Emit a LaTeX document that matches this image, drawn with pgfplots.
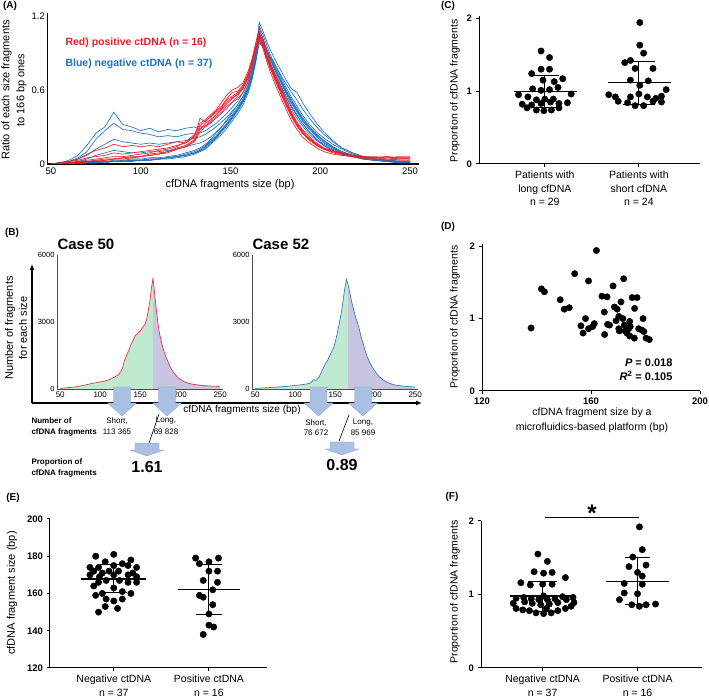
\documentclass[border=0pt]{standalone}
\usepackage{pgfplots}
\pgfplotsset{compat=1.18}
\usepackage{pgfplotstable}
\usepackage{fontspec}
\setmainfont{Liberation Sans}
\usetikzlibrary{arrows.meta}

\definecolor{cred}{RGB}{232,30,40}
\definecolor{cblue}{RGB}{30,112,188}
\definecolor{fgreen}{RGB}{192,234,208}
\definecolor{fpurple}{RGB}{200,196,226}
\definecolor{arrblue}{RGB}{170,192,226}

\newcommand{\fsz}[2]{\fontsize{#1}{#2}\selectfont}
\newcommand{\blockarrow}[6]{\fill[arrblue, draw=arrblue!85!black, line width=0.3pt] ({(#1-#5)*1pt},{#2*1pt}) -- ({(#1+#5)*1pt},{#2*1pt}) -- ({(#1+#5)*1pt},{#3*1pt}) -- ({(#1+#6)*1pt},{#3*1pt}) -- ({#1*1pt},{#4*1pt}) -- ({(#1-#6)*1pt},{#3*1pt}) -- ({(#1-#5)*1pt},{#3*1pt}) -- cycle;}

\pgfplotstableread{
x r1 r2 r3 r4 r5 r6 b1 b2 b3 b4 b5 b6 b7 b8 b9 b10
50 0 0 0 0 0 0 0 0 0 0 0 0 0 0 0 0
55 0.00 0.01 0.00 0.01 0.00 0.01 0.01 0.01 0.01 0.00 0.00 0.00 0.00 0.00 0.00 0.00
60 0.01 0.01 0.01 0.02 0.01 0.02 0.03 0.02 0.02 0.01 0.00 0.01 0.00 0.00 0.01 0.00
65 0.01 0.02 0.02 0.03 0.01 0.04 0.07 0.05 0.04 0.02 0.01 0.01 0.01 0.00 0.01 0.01
70 0.02 0.03 0.02 0.05 0.02 0.08 0.15 0.10 0.07 0.04 0.01 0.01 0.01 0.01 0.01 0.01
75 0.02 0.04 0.03 0.06 0.03 0.11 0.25 0.20 0.12 0.07 0.01 0.02 0.01 0.01 0.02 0.01
80 0.03 0.05 0.04 0.07 0.03 0.13 0.30 0.27 0.16 0.09 0.02 0.02 0.01 0.02 0.02 0.02
85 0.04 0.06 0.04 0.09 0.04 0.16 0.42 0.33 0.20 0.11 0.02 0.02 0.02 0.02 0.03 0.02
90 0.04 0.06 0.05 0.08 0.05 0.14 0.32 0.28 0.18 0.10 0.02 0.03 0.02 0.02 0.03 0.02
95 0.05 0.07 0.06 0.09 0.05 0.15 0.30 0.27 0.17 0.09 0.03 0.03 0.02 0.03 0.04 0.03
100 0.06 0.08 0.06 0.10 0.06 0.14 0.27 0.25 0.16 0.09 0.03 0.03 0.03 0.03 0.04 0.03
105 0.07 0.09 0.08 0.11 0.07 0.15 0.29 0.24 0.17 0.10 0.03 0.04 0.03 0.03 0.05 0.04
110 0.08 0.11 0.09 0.12 0.08 0.14 0.26 0.22 0.16 0.10 0.04 0.04 0.04 0.04 0.05 0.04
115 0.10 0.12 0.10 0.13 0.09 0.16 0.28 0.23 0.17 0.11 0.05 0.05 0.04 0.05 0.06 0.05
120 0.13 0.14 0.12 0.15 0.12 0.18 0.27 0.22 0.18 0.12 0.06 0.06 0.05 0.06 0.07 0.06
125 0.15 0.18 0.14 0.17 0.14 0.17 0.29 0.24 0.19 0.14 0.07 0.08 0.06 0.07 0.09 0.07
130 0.20 0.24 0.18 0.22 0.19 0.23 0.30 0.25 0.21 0.16 0.09 0.10 0.08 0.09 0.11 0.09
133 0.30 0.33 0.26 0.37 0.28 0.31 0.28 0.25 0.22 0.17 0.11 0.12 0.10 0.11 0.13 0.10
136 0.31 0.36 0.30 0.34 0.33 0.35 0.31 0.27 0.24 0.19 0.14 0.15 0.12 0.14 0.16 0.13
139 0.35 0.40 0.33 0.39 0.36 0.38 0.34 0.30 0.27 0.22 0.18 0.19 0.16 0.18 0.20 0.17
142 0.40 0.44 0.38 0.43 0.40 0.42 0.37 0.33 0.30 0.26 0.22 0.23 0.20 0.22 0.25 0.21
145 0.45 0.50 0.42 0.47 0.44 0.46 0.41 0.37 0.34 0.30 0.27 0.28 0.24 0.27 0.30 0.26
148 0.50 0.56 0.47 0.53 0.49 0.52 0.45 0.41 0.38 0.35 0.32 0.33 0.29 0.32 0.36 0.31
151 0.54 0.60 0.50 0.58 0.53 0.55 0.50 0.46 0.43 0.40 0.37 0.39 0.35 0.38 0.42 0.37
154 0.56 0.62 0.53 0.59 0.57 0.58 0.55 0.51 0.48 0.46 0.44 0.45 0.41 0.44 0.48 0.43
157 0.62 0.66 0.58 0.64 0.61 0.63 0.62 0.58 0.55 0.53 0.51 0.52 0.48 0.51 0.55 0.50
160 0.72 0.76 0.68 0.74 0.70 0.73 0.70 0.67 0.64 0.62 0.61 0.62 0.58 0.61 0.65 0.60
162 0.82 0.85 0.79 0.84 0.80 0.83 0.78 0.76 0.73 0.72 0.71 0.72 0.68 0.71 0.75 0.70
164 0.94 0.97 0.92 0.98 0.93 0.95 0.90 0.88 0.86 0.85 0.84 0.86 0.82 0.85 0.88 0.83
166 1.03 1.06 1.00 1.10 1.02 1.04 1.02 1.05 1.00 1.08 1.04 1.12 0.98 1.06 1.15 1.01
168 0.96 1.00 0.94 1.02 0.97 0.98 0.97 1.00 0.96 1.02 1.00 1.05 0.95 1.00 1.08 0.98
170 0.86 0.90 0.84 0.92 0.87 0.88 0.88 0.92 0.88 0.94 0.92 0.97 0.88 0.93 1.00 0.92
172 0.78 0.81 0.75 0.83 0.79 0.80 0.80 0.85 0.81 0.87 0.85 0.89 0.82 0.86 0.93 0.87
175 0.67 0.70 0.64 0.72 0.68 0.69 0.70 0.75 0.72 0.78 0.76 0.80 0.73 0.77 0.84 0.80
178 0.57 0.60 0.54 0.62 0.58 0.59 0.61 0.66 0.63 0.69 0.67 0.71 0.64 0.68 0.76 0.72
181 0.47 0.50 0.44 0.52 0.48 0.49 0.52 0.57 0.54 0.60 0.58 0.62 0.55 0.59 0.68 0.65
184 0.38 0.41 0.35 0.42 0.39 0.40 0.44 0.49 0.46 0.52 0.50 0.54 0.47 0.51 0.61 0.58
187 0.31 0.33 0.28 0.34 0.31 0.32 0.37 0.42 0.39 0.45 0.43 0.47 0.40 0.44 0.58 0.52
190 0.25 0.27 0.22 0.28 0.25 0.26 0.31 0.35 0.33 0.38 0.36 0.40 0.33 0.37 0.50 0.45
194 0.20 0.21 0.17 0.22 0.19 0.20 0.24 0.28 0.26 0.30 0.29 0.32 0.26 0.30 0.41 0.37
198 0.15 0.16 0.13 0.17 0.15 0.16 0.19 0.22 0.20 0.24 0.23 0.26 0.20 0.24 0.33 0.30
202 0.12 0.13 0.10 0.13 0.12 0.12 0.15 0.17 0.16 0.19 0.18 0.21 0.15 0.19 0.26 0.24
207 0.10 0.10 0.08 0.11 0.09 0.10 0.11 0.13 0.12 0.14 0.13 0.16 0.11 0.14 0.19 0.18
212 0.08 0.09 0.07 0.09 0.07 0.08 0.08 0.09 0.09 0.10 0.10 0.12 0.08 0.10 0.13 0.13
218 0.07 0.07 0.06 0.07 0.06 0.06 0.06 0.07 0.06 0.07 0.07 0.08 0.06 0.07 0.09 0.09
224 0.05 0.06 0.04 0.06 0.05 0.05 0.04 0.05 0.04 0.05 0.05 0.06 0.04 0.05 0.06 0.06
230 0.05 0.05 0.04 0.06 0.04 0.05 0.03 0.04 0.03 0.04 0.04 0.04 0.03 0.04 0.04 0.04
237 0.04 0.06 0.04 0.05 0.03 0.06 0.02 0.03 0.02 0.03 0.03 0.03 0.02 0.03 0.03 0.03
244 0.05 0.04 0.03 0.06 0.04 0.05 0.02 0.02 0.01 0.02 0.02 0.02 0.01 0.02 0.02 0.02
250 0.04 0.05 0.03 0.06 0.04 0.05 0.01 0.02 0.01 0.02 0.01 0.02 0.01 0.01 0.02 0.01
}\tabA

\pgfplotstableread{
x n
50 30
55 40
60 60
65 80
70 100
75 130
80 170
85 210
90 250
95 280
100 320
103 330
106 360
110 400
113 450
116 500
119 560
122 620
124 700
126 800
128 950
130 1250
132 1400
134 1600
136 1750
138 1950
140 2100
142 2250
144 2400
146 2450
148 2550
150 2600
152 2700
154 2800
156 2900
158 3100
160 3500
162 3900
164 4500
166 4950
168 4300
170 3600
172 3000
174 2500
176 2200
178 1900
180 1650
182 1450
185 1200
188 950
191 780
194 640
197 520
200 430
205 330
210 260
215 220
220 190
225 170
230 150
240 130
250 120
}\tabBa

\pgfplotstableread{
x n
50 30
60 50
70 70
80 90
90 120
100 160
105 180
110 200
115 230
118 250
120 300
122 380
124 420
126 380
128 450
130 550
132 700
134 850
136 1000
138 1150
140 1250
142 1400
144 1550
146 1700
148 1850
150 2100
152 2400
154 2750
156 3100
158 3500
160 4000
162 4500
164 4900
166 4700
168 4350
170 4000
172 3700
174 3400
176 3150
178 2950
180 2700
182 2400
184 2150
186 1900
188 1650
190 1450
193 1200
196 1000
200 780
205 550
210 400
215 300
220 230
225 180
230 150
240 110
250 90
}\tabBb

\pgfplotsset{
  dotax/.style={scale only axis, axis lines=left, axis line style={-, line width=1pt},
    tick style={black, line width=1pt}, tick align=outside, major tick length=3.5pt,
    /pgf/number format/assume math mode=true,
    yticklabel style={font=\fsz{9.5}{11}\bfseries},
    xticklabel style={font=\fsz{10.5}{13.5}, align=center},
    clip=false},
  dots/.style={only marks, mark=*, mark size=3.2pt, black},
  bar/.style={black, line width=1.1pt, mark=none},
  inner/.style={scale only axis, width=165.6pt, height=134pt, xmin=46, xmax=253, ymin=0, ymax=6000,
    axis lines=left, axis line style={-, line width=0.5pt, black!70},
    xtick={50,100,150,200,250}, ytick={0,3000,6000}, major tick length=0pt,
    /pgf/number format/assume math mode=true, /pgf/number format/1000 sep={},
    scaled y ticks=false,
    xticklabel style={font=\fsz{8}{9}, yshift=1pt},
    yticklabel style={font=\fsz{7.5}{9}, xshift=1pt}},
}

\begin{document}
\begin{tikzpicture}
\path[use as bounding box] (0pt,0pt) rectangle (709pt,700pt);

% ---------------- Panel A ----------------
\begin{axis}[scale only axis, at={(47.4pt,536pt)}, anchor=south west,
  width=371.6pt, height=150.5pt, xmin=48, xmax=255, ymin=0, ymax=1.22,
  axis lines=left, axis line style={-, line width=1.1pt},
  xtick={50,100,150,200,250}, ytick={0,0.6,1.2}, major tick length=0pt,
  /pgf/number format/assume math mode=true,
  tick label style={font=\fsz{9.5}{11}}, yticklabel style={xshift=1pt}]
\pgfplotsinvokeforeach{b1,b2,b3,b4,b5,b6,b7,b8,b9,b10}{
  \addplot[cblue, line width=0.65pt] table[x=x, y=#1] {\tabA};}
\pgfplotsinvokeforeach{r1,r2,r3,r4,r5,r6}{
  \addplot[cred, line width=0.65pt] table[x=x, y=#1] {\tabA};}
\end{axis}
\node[font=\fsz{10}{12}\bfseries] at (10pt,694pt) {(A)};
\node[anchor=west, text=cred, font=\fsz{10.5}{12}\bfseries] at (62pt,657pt) {Red) positive ctDNA (n = 16)};
\node[anchor=west, text=cblue, font=\fsz{10.5}{12}\bfseries] at (62pt,636pt) {Blue) negative ctDNA (n = 37)};
\node[rotate=90, align=center, font=\fsz{11}{15}] at (14pt,610pt) {Ratio of each size fragments\\to 166 bp ones};
\node[font=\fsz{11}{13}] at (230pt,515pt) {cfDNA fragments size (bp)};

% ---------------- Panel B ----------------
\node[font=\fsz{10}{12}\bfseries] at (12pt,467pt) {(B)};
\node[anchor=west, font=\fsz{15}{17}\bfseries] at (54pt,456pt) {Case 50};
\node[anchor=west, font=\fsz{15}{17}\bfseries] at (249pt,456pt) {Case 52};
\node[rotate=90, align=center, font=\fsz{11}{14}] at (16pt,372pt) {Number of fragments\\for each size};

\begin{axis}[inner, at={(57pt,311pt)}, anchor=south west]
\addplot[fill=fgreen, draw=none, restrict x to domain=0:166] table[x=x,y=n] {\tabBa} \closedcycle;
\addplot[fill=fpurple, draw=none, restrict x to domain=166:260] table[x=x,y=n] {\tabBa} \closedcycle;
\addplot[cred, line width=0.6pt] table[x=x,y=n] {\tabBa};
\end{axis}
\begin{axis}[inner, at={(252pt,311pt)}, anchor=south west]
\addplot[fill=fgreen, draw=none, restrict x to domain=0:166] table[x=x,y=n] {\tabBb} \closedcycle;
\addplot[fill=fpurple, draw=none, restrict x to domain=166:260] table[x=x,y=n] {\tabBb} \closedcycle;
\addplot[cblue, line width=0.6pt] table[x=x,y=n] {\tabBb};
\end{axis}
\draw[line width=1.3pt, -{Latex[length=6pt,width=5pt]}] (32pt,297pt) -- (32pt,436pt);
\draw[line width=1.3pt, -{Latex[length=6pt,width=5pt]}] (32pt,297pt) -- (422pt,297pt);
\node[font=\fsz{10}{12}] at (242pt,290pt) {cfDNA fragments size (bp)};
\blockarrow{122}{313}{297}{284}{8.5}{14.5}
\blockarrow{167}{313}{297}{284}{8.5}{14.5}
\blockarrow{318.5}{313}{297}{284}{8.5}{14.5}
\blockarrow{363}{313}{297}{284}{8.5}{14.5}
\blockarrow{147}{257}{250}{244}{12}{17}
\blockarrow{342}{258}{251}{245}{12}{17}

\node[anchor=west, font=\fsz{8}{10}\bfseries] at (28pt,279pt) {Number of};
\node[anchor=west, font=\fsz{8}{10}\bfseries] at (28pt,268pt) {cfDNA fragments};
\node[font=\fsz{8}{10}] at (117pt,279pt) {Short,};
\node[font=\fsz{8}{10}] at (117pt,268pt) {113 365};
\node[font=\fsz{8}{10}] at (166pt,279pt) {Long,};
\node[font=\fsz{8}{10}] at (166pt,268pt) {69 828};
\draw[line width=0.6pt] (159pt,286pt) -- (149pt,257pt);
\node[anchor=west, font=\fsz{8}{10}\bfseries] at (28pt,238pt) {Proportion of};
\node[anchor=west, font=\fsz{8}{10}\bfseries] at (28pt,227pt) {cfDNA fragments};
\node[font=\fsz{16}{18}\bfseries] at (147pt,233pt) {1.61};

\node[font=\fsz{8}{10}] at (316pt,277pt) {Short,};
\node[font=\fsz{8}{10}] at (316pt,267pt) {76 672};
\node[font=\fsz{8}{10}] at (363pt,277pt) {Long,};
\node[font=\fsz{8}{10}] at (363pt,267pt) {85 969};
\draw[line width=0.6pt] (349pt,285pt) -- (339pt,259pt);
\node[font=\fsz{16}{18}\bfseries] at (342pt,235pt) {0.89};

% ---------------- Panel C ----------------
\node[font=\fsz{10}{12}\bfseries] at (448pt,694pt) {(C)};
\node[rotate=90, font=\fsz{10.5}{13}] at (455pt,609pt) {Proportion of cfDNA fragments};
\begin{axis}[dotax, at={(479pt,536pt)}, anchor=south west, width=221pt, height=148pt,
  xmin=0.3, xmax=2.65, ymin=0, ymax=2.03, ytick={0,1,2}, xtick={1,2},
  xticklabels={{Patients with\\long cfDNA\\n = 29},{Patients with\\short cfDNA\\n = 24}}]
\addplot[dots] coordinates {
(0.96,1.55) (1.05,1.46) (0.96,1.30) (1.05,1.30) (0.86,1.24) (1.19,1.17) (0.98,1.15) (1.10,1.13)
(0.72,0.95) (0.87,1.03) (0.96,1.01) (1.05,1.02) (1.14,1.05) (1.28,0.96)
(0.82,0.92) (0.91,0.88) (1.00,0.89) (1.09,0.89)
(0.76,0.82) (0.86,0.81) (0.96,0.83) (1.06,0.85) (1.15,0.83) (1.24,0.84)
(0.81,0.77) (0.91,0.74) (0.99,0.73) (1.07,0.74) (1.15,0.77)};
\addplot[dots] coordinates {
(2.01,1.94) (2.01,1.63) (2.05,1.52) (1.85,1.39) (1.91,1.42) (1.96,1.31) (2.15,1.31)
(1.91,1.15) (2.10,1.14) (2.01,1.08)
(1.68,0.95) (1.75,0.92) (1.91,0.92) (2.00,0.96) (2.09,0.92) (2.18,0.90) (2.24,0.93) (2.29,1.02)
(1.78,0.86) (1.88,0.84) (1.96,0.80) (2.05,0.80) (2.15,0.86) (2.24,0.85)};
\addplot[bar] coordinates {(0.67,0.99) (1.34,0.99)};
\addplot[bar] coordinates {(1,0.77) (1,1.21)};
\addplot[bar] coordinates {(0.86,1.21) (1.15,1.21)};
\addplot[bar] coordinates {(0.86,0.77) (1.15,0.77)};
\addplot[bar] coordinates {(1.67,1.12) (2.34,1.12)};
\addplot[bar] coordinates {(2,0.82) (2,1.41)};
\addplot[bar] coordinates {(1.83,1.41) (2.17,1.41)};
\addplot[bar] coordinates {(1.83,0.82) (2.17,0.82)};
\end{axis}

% ---------------- Panel D ----------------
\node[font=\fsz{10}{12}\bfseries] at (448pt,473pt) {(D)};
\node[rotate=90, font=\fsz{10.5}{13}] at (455pt,383pt) {Proportion of cfDNA fragments};
\begin{axis}[dotax, at={(482pt,309pt)}, anchor=south west, width=218pt, height=147pt,
  xmin=120, xmax=200, ymin=0, ymax=2.03, ytick={0,1,2}, xtick={120,160,200},
  xticklabel style={font=\fsz{9.5}{11}\bfseries}]
\addplot[dots] coordinates {
(138.0,0.87) (141.8,1.41) (142.9,1.37) (148.7,1.26) (150.2,1.13) (152.0,1.15) (154.0,1.62)
(159.1,1.52) (162.0,1.94) (158.0,1.00) (156.3,0.90) (157.1,0.80) (159.1,0.86) (160.6,0.89)
(161.2,0.93) (164.0,1.31) (165.9,1.30) (164.9,1.09) (165.0,0.78) (166.1,0.92) (166.8,0.91)
(168.1,1.45) (168.6,1.16) (169.6,1.13) (170.2,1.03) (169.2,0.97) (170.2,0.86) (170.4,0.83)
(171.0,1.23) (171.7,1.00) (172.0,1.55) (172.2,0.91) (172.5,0.83) (173.2,0.80) (173.8,0.86)
(174.2,0.96) (174.4,0.89) (174.2,0.76) (175.1,1.29) (176.9,1.29) (176.0,1.14) (175.9,0.73)
(177.5,0.86) (178.7,0.84) (179.1,1.00) (179.4,0.82) (180.2,0.73) (181.4,0.71)};
\end{axis}
\node[anchor=east, font=\fsz{11}{13}\bfseries] at (676pt,337pt) {\textit{P} = 0.018};
\node[anchor=east, font=\fsz{11}{13}\bfseries] at (676pt,324pt) {\textit{R}\textsuperscript{2} = 0.105};
\node[align=center, font=\fsz{10.5}{15}] at (592pt,280pt) {cfDNA fragment size by a\\microfluidics-based platform (bp)};

% ---------------- Panel E ----------------
\node[font=\fsz{10}{12}\bfseries] at (13pt,202pt) {(E)};
\node[rotate=90, font=\fsz{11}{13}] at (12pt,107pt) {cfDNA fragment size (bp)};
\begin{axis}[dotax, at={(50pt,32pt)}, anchor=south west, width=217pt, height=149pt,
  xmin=0.33, xmax=2.61, ymin=120, ymax=200, ytick={120,140,160,180,200}, xtick={1,2},
  xticklabels={{Negative ctDNA\\n = 37},{Positive ctDNA\\n = 16}}]
\addplot[dots] coordinates {
(0.81,180) (1.00,181) (1.18,178) (0.91,177) (1.09,176) (1.00,175) (0.75,174) (0.84,174)
(1.15,175) (1.24,174) (0.95,172) (1.05,172) (0.79,172) (0.88,171) (1.20,171) (0.75,170)
(0.85,169) (1.00,170) (1.15,170) (1.24,169) (0.92,167) (1.06,167) (0.84,166) (1.15,166)
(1.24,166) (0.79,164) (1.00,163) (0.88,160) (1.09,161) (1.18,160) (0.81,159) (0.92,157)
(1.00,156) (1.09,157) (0.91,153) (0.84,150) (1.04,152)};
\addplot[dots] coordinates {
(1.86,179) (1.90,176) (2.00,177) (2.10,179) (2.00,172) (2.09,172) (1.94,167) (2.09,166)
(1.90,159) (1.94,158) (2.04,162) (2.04,154) (2.00,149) (2.00,143) (2.05,142) (1.94,138)};
\addplot[bar] coordinates {(0.66,167.8) (1.34,167.8)};
\addplot[bar] coordinates {(1,160.3) (1,175.5)};
\addplot[bar] coordinates {(0.86,175.5) (1.14,175.5)};
\addplot[bar] coordinates {(0.86,160.3) (1.14,160.3)};
\addplot[bar] coordinates {(1.67,162.1) (2.33,162.1)};
\addplot[bar] coordinates {(2,148.6) (2,175.8)};
\addplot[bar] coordinates {(1.86,175.8) (2.14,175.8)};
\addplot[bar] coordinates {(1.86,148.6) (2.14,148.6)};
\end{axis}

% ---------------- Panel F ----------------
\node[font=\fsz{10}{12}\bfseries] at (452pt,203pt) {(F)};
\node[rotate=90, font=\fsz{10.5}{13}] at (455pt,108pt) {Proportion of cfDNA fragments};
\begin{axis}[dotax, at={(481pt,32pt)}, anchor=south west, width=221pt, height=147pt,
  xmin=0.35, xmax=2.68, ymin=0, ymax=2.0, ytick={0,1,2}, xtick={1,2},
  xticklabels={{Negative ctDNA\\n = 37},{Positive ctDNA\\n = 16}}]
\addplot[dots] coordinates {
(0.95,1.55) (1.05,1.45) (0.91,1.31) (1.01,1.29) (1.10,1.30) (1.24,1.23) (0.77,1.16) (0.87,1.13)
(1.00,1.14) (1.10,1.14) (1.01,0.98)
(0.72,0.95) (0.81,0.90) (0.89,0.88) (0.98,0.86) (1.07,0.87) (1.16,0.89) (1.25,0.93) (1.32,0.96)
(0.72,0.81) (0.79,0.79) (0.86,0.78) (0.93,0.75) (1.01,0.74) (1.09,0.75) (1.16,0.78) (1.24,0.81) (1.30,0.84)
(0.80,0.96) (0.88,0.94) (0.96,0.93) (1.05,0.93) (1.13,0.94) (1.21,0.97) (0.69,0.88) (1.33,0.89) (1.04,0.81)};
\addplot[dots] coordinates {
(2.02,1.92) (2.05,1.61) (1.95,1.51) (2.09,1.40) (1.91,1.38) (2.00,1.30) (2.05,1.25) (1.86,1.15)
(2.05,1.14) (1.86,1.02) (2.00,1.01) (1.81,0.93) (1.94,0.86) (2.02,0.84) (2.09,0.86) (2.19,0.87)};
\addplot[bar] coordinates {(0.66,0.98) (1.34,0.98)};
\addplot[bar] coordinates {(1,0.77) (1,1.18)};
\addplot[bar] coordinates {(0.85,1.18) (1.15,1.18)};
\addplot[bar] coordinates {(0.85,0.77) (1.15,0.77)};
\addplot[bar] coordinates {(1.67,1.18) (2.33,1.18)};
\addplot[bar] coordinates {(2,0.86) (2,1.50)};
\addplot[bar] coordinates {(1.87,1.50) (2.13,1.50)};
\addplot[bar] coordinates {(1.87,0.86) (2.13,0.86)};
\addplot[black, line width=1pt] coordinates {(1.02,2.05) (2.02,2.05)};
\node[anchor=base, font=\fsz{24}{24}\bfseries] at (axis cs:1.52,1.99) {*};
\end{axis}
\end{tikzpicture}
\end{document}
